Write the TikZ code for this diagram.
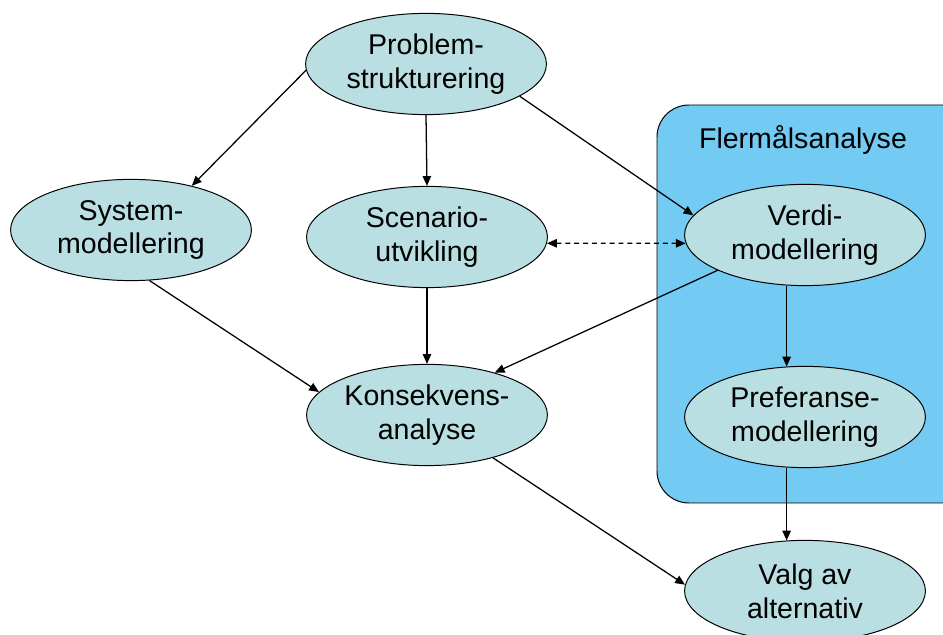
\documentclass[tikz,border=0pt]{standalone}
\usepackage{fontspec}
\setmainfont{Liberation Sans}
\usetikzlibrary{shapes.geometric,arrows.meta}
\definecolor{ellblue}{RGB}{185,223,227}
\definecolor{boxblue}{RGB}{115,203,244}

\begin{document}
\begin{tikzpicture}[x=0.025cm,y=-0.025cm]
\useasboundingbox (0,0) rectangle (943,635);
\tikzset{ProcStyle/.style ={shape=ellipse, draw, fill=ellblue, line width=0.7pt,
    minimum width=6.02cm, minimum height=2.53cm, inner sep=0, align=center,
    font=\fontsize{20.3}{24}\selectfont},
  EdgeStyle/.style ={line width=0.9pt, -{Triangle[length=7pt,width=6pt]}}}
\draw[fill=boxblue, line width=0.7pt, rounded corners=0.8cm] (657,105) rectangle (990,503);
\node[font=\fontsize{20.3}{24}\selectfont] (fler) at (803,140) {Flermålsanalyse};
\node[ProcStyle] (prob) at (426,64) {Problem-\\strukturering};
\node[ProcStyle] (sys) at (131,230) {System-\\modellering};
\node[ProcStyle] (scen) at (427,237) {Scenario-\\utvikling};
\node[ProcStyle] (verdi) at (805,235) {Verdi-\\modellering};
\node[ProcStyle] (kons) at (427,415) {Konsekvens-\\analyse};
\node[ProcStyle] (pref) at (805,417) {Preferanse-\\modellering};
\node[ProcStyle] (valg) at (805,591) {Valg av\\alternativ};
\draw[EdgeStyle] (prob.183) -- (sys.36);
\draw[EdgeStyle] (prob.south) -- (scen.north);
\draw[EdgeStyle] (prob.341) -- (verdi.170);
\draw[EdgeStyle, {Triangle[length=7pt,width=6pt]}-{Triangle[length=7pt,width=6pt]},
  dash pattern=on 3.5pt off 2.8pt] (scen.357) -- (verdi.184);
\draw[EdgeStyle] (sys.290) -- (kons.168);
\draw[EdgeStyle] (scen.south) -- (kons.north);
\draw[EdgeStyle] (verdi.202) -- (kons.32);
\draw[EdgeStyle] (verdi.250) -- (pref.110);
\draw[EdgeStyle] (pref.250) -- (valg.110);
\draw[EdgeStyle] (kons.327) -- (valg.177);
\end{tikzpicture}
\end{document}
